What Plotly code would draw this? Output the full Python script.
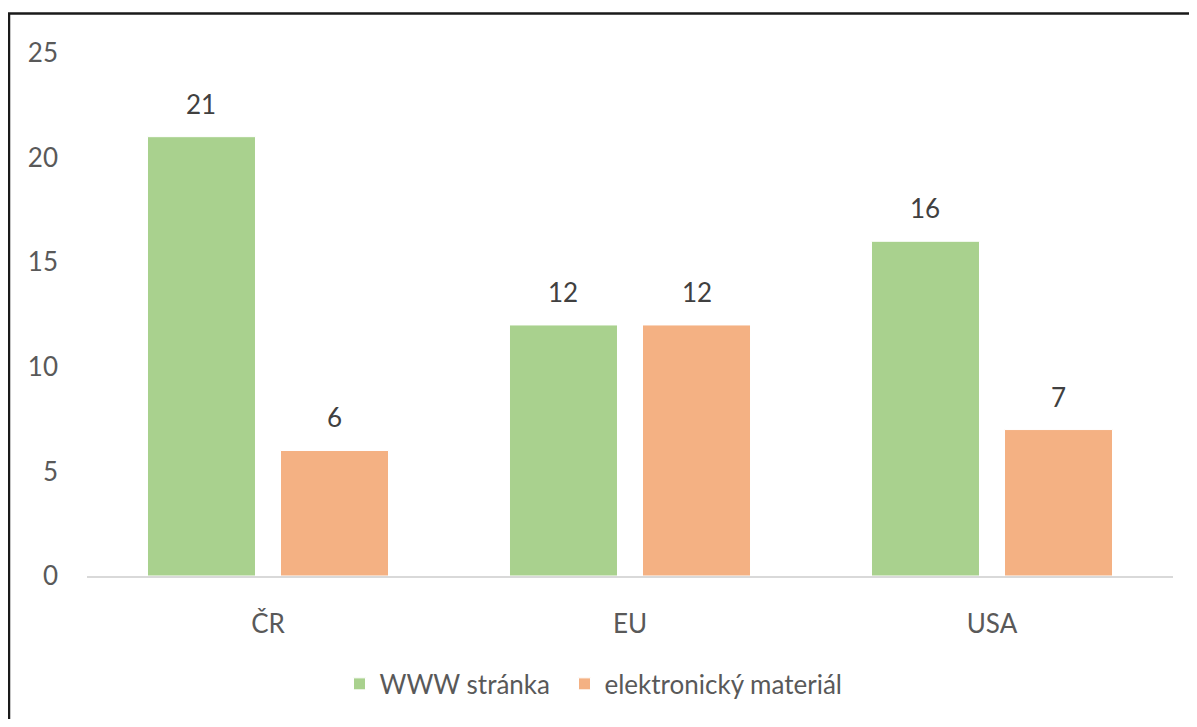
import plotly.graph_objects as go

categories = ["ČR", "EU", "USA"]
www_values = [21, 12, 16]
elektro_values = [6, 12, 7]
series_names = ["WWW stránka", "elektronický materiál"]
y_ticks = [0, 5, 10, 15, 20, 25]

GREEN = "#A9D18E"
ORANGE = "#F4B183"
TEXT = "#595959"
FONT = "Lato, 'Open Sans', sans-serif"
FS = 26

# page body has an 8px default margin; figure is sized to fit the window
OFF = 8
W, H = 1197 - 2 * OFF, 727 - 2 * OFF
ML = 87 - OFF
MR = W - (1173 - OFF)
MT = 53 - OFF
MB = H - (581 - OFF)

fig = go.Figure()
fig.add_trace(go.Bar(x=categories, y=www_values, name=series_names[0], legend="legend",
                     marker=dict(color=GREEN, line=dict(color="white", width=1))))
fig.add_trace(go.Bar(x=categories, y=elektro_values, name=series_names[1], legend="legend2",
                     marker=dict(color=ORANGE, line=dict(color="white", width=1))))

plot_w = W - ML - MR
plot_h = H - MT - MB
slot = plot_w / len(categories) * (1 - 0.265) / 2
annotations = []
for vals, shift in ((www_values, -slot / 2), (elektro_values, slot / 2)):
    for c, v in zip(categories, vals):
        annotations.append(dict(x=c, y=v, xref="x", yref="y", text=str(v),
                                showarrow=False, xshift=shift, yshift=33,
                                font=dict(size=FS, color="#404040", family=FONT)))

legend_y = -(690 - 581) / plot_h
legend_common = dict(orientation="h", xanchor="left", y=legend_y, yanchor="middle",
                     font=dict(size=FS, color=TEXT), itemwidth=30,
                     bgcolor="rgba(0,0,0,0)")

fig.update_layout(
    width=W, height=H,
    margin=dict(l=ML, r=MR, t=MT, b=MB),
    paper_bgcolor="white", plot_bgcolor="white",
    barmode="group", bargap=0.265, bargroupgap=0.188,
    font=dict(family=FONT, size=FS, color=TEXT),
    showlegend=True,
    legend=dict(x=(339.5 - 87) / plot_w, **legend_common),
    legend2=dict(x=(564.5 - 87) / plot_w, **legend_common),
    annotations=annotations,
    shapes=[dict(type="rect", xref="paper", yref="paper",
                 x0=(9 - 87) / plot_w, x1=1.1, y0=-0.4, y1=(581 - 13) / plot_h,
                 line=dict(color="#1a1a1a", width=2.5), layer="above")],
)
fig.update_yaxes(range=[0, 25], tickvals=y_ticks, showgrid=False, zeroline=False,
                 showline=False, ticks="", ticklabelstandoff=28,
                 tickfont=dict(size=FS, color=TEXT))
fig.update_xaxes(showgrid=False, showline=True, linecolor="#D9D9D9", linewidth=2,
                 ticks="", ticklabelstandoff=24, tickfont=dict(size=FS, color=TEXT))

fig.write_html("out.html")
